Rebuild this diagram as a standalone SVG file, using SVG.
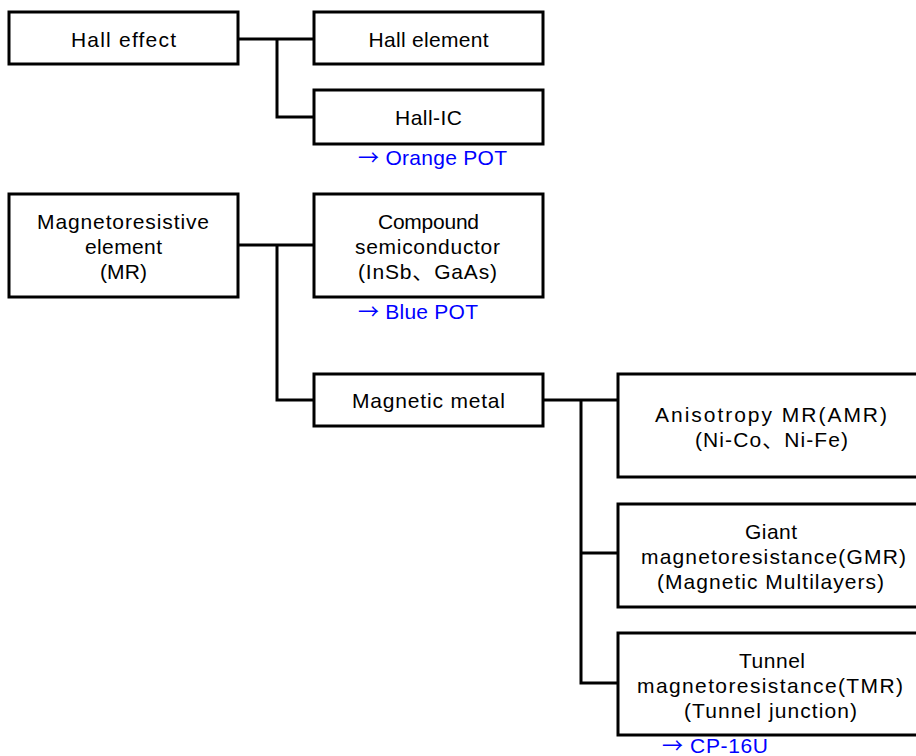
<svg xmlns="http://www.w3.org/2000/svg" width="916" height="756" viewBox="0 0 916 756">
<style>
.box{fill:#fff;stroke:#000;stroke-width:3}
.ln{fill:none;stroke:#000;stroke-width:3}
text{font-family:"Liberation Sans","DejaVu Sans","Noto Sans CJK JP",sans-serif;font-size:21px;fill:#000;text-anchor:middle}
.link{fill:#0000ff}
.arr{font-family:"Noto Sans CJK JP",sans-serif}
</style>
<rect width="916" height="756" fill="#fff"/>
<g id="connectors">
<path class="ln" d="M238 39H314M277 39V117H314"/>
<path class="ln" d="M238 245H314M277 245V400H314"/>
<path class="ln" d="M543 400H618M581 400V683H618M581 553H618"/>
</g>
<g id="hall-effect">
<rect class="box" x="9" y="12" width="229" height="52"/>
<text x="123.5" y="47" textLength="105" lengthAdjust="spacing">Hall effect</text>
</g>
<g id="hall-element">
<rect class="box" x="314" y="12" width="229" height="52"/>
<text x="428.5" y="47" textLength="120" lengthAdjust="spacing">Hall element</text>
</g>
<g id="hall-ic">
<rect class="box" x="314" y="90" width="229" height="54"/>
<text x="428.5" y="125" textLength="67" lengthAdjust="spacing">Hall-IC</text>
<text class="link" x="432.5" y="165" textLength="149" lengthAdjust="spacing"><tspan class="arr">→</tspan> Orange POT</text>
</g>
<g id="mr">
<rect class="box" x="9" y="194" width="229" height="103"/>
<text x="123" y="229" textLength="172" lengthAdjust="spacing">Magnetoresistive</text>
<text x="123.5" y="254" textLength="77" lengthAdjust="spacing">element</text>
<text x="123.5" y="279" textLength="47" lengthAdjust="spacing">(MR)</text>
</g>
<g id="compound">
<rect class="box" x="314" y="194" width="229" height="103"/>
<text x="428.5" y="229" textLength="101" lengthAdjust="spacing">Compound</text>
<text x="427.5" y="254" textLength="145" lengthAdjust="spacing">semiconductor</text>
<text x="427.5" y="279" textLength="139" lengthAdjust="spacing">(InSb、GaAs)</text>
<text class="link" x="418" y="319" textLength="120" lengthAdjust="spacing"><tspan class="arr">→</tspan> Blue POT</text>
</g>
<g id="magnetic-metal">
<rect class="box" x="314" y="374" width="229" height="52"/>
<text x="428.5" y="408" textLength="153" lengthAdjust="spacing">Magnetic metal</text>
</g>
<g id="amr">
<rect class="box" x="618" y="374" width="320" height="103"/>
<text x="771" y="422" textLength="232" lengthAdjust="spacing">Anisotropy MR(AMR)</text>
<text x="771.5" y="447" textLength="153" lengthAdjust="spacing">(Ni-Co、Ni-Fe)</text>
</g>
<g id="gmr">
<rect class="box" x="618" y="504" width="320" height="103"/>
<text x="771" y="539" textLength="52" lengthAdjust="spacing">Giant</text>
<text x="773.5" y="564" textLength="265" lengthAdjust="spacing">magnetoresistance(GMR)</text>
<text x="770.5" y="589" textLength="227" lengthAdjust="spacing">(Magnetic Multilayers)</text>
</g>
<g id="tmr">
<rect class="box" x="618" y="633" width="320" height="102"/>
<text x="772" y="668" textLength="66" lengthAdjust="spacing">Tunnel</text>
<text x="770" y="693" textLength="266" lengthAdjust="spacing">magnetoresistance(TMR)</text>
<text x="770.5" y="718" textLength="173" lengthAdjust="spacing">(Tunnel junction)</text>
<text class="link" x="715" y="753" textLength="106" lengthAdjust="spacing"><tspan class="arr">→</tspan> CP-16U</text>
</g>
</svg>
